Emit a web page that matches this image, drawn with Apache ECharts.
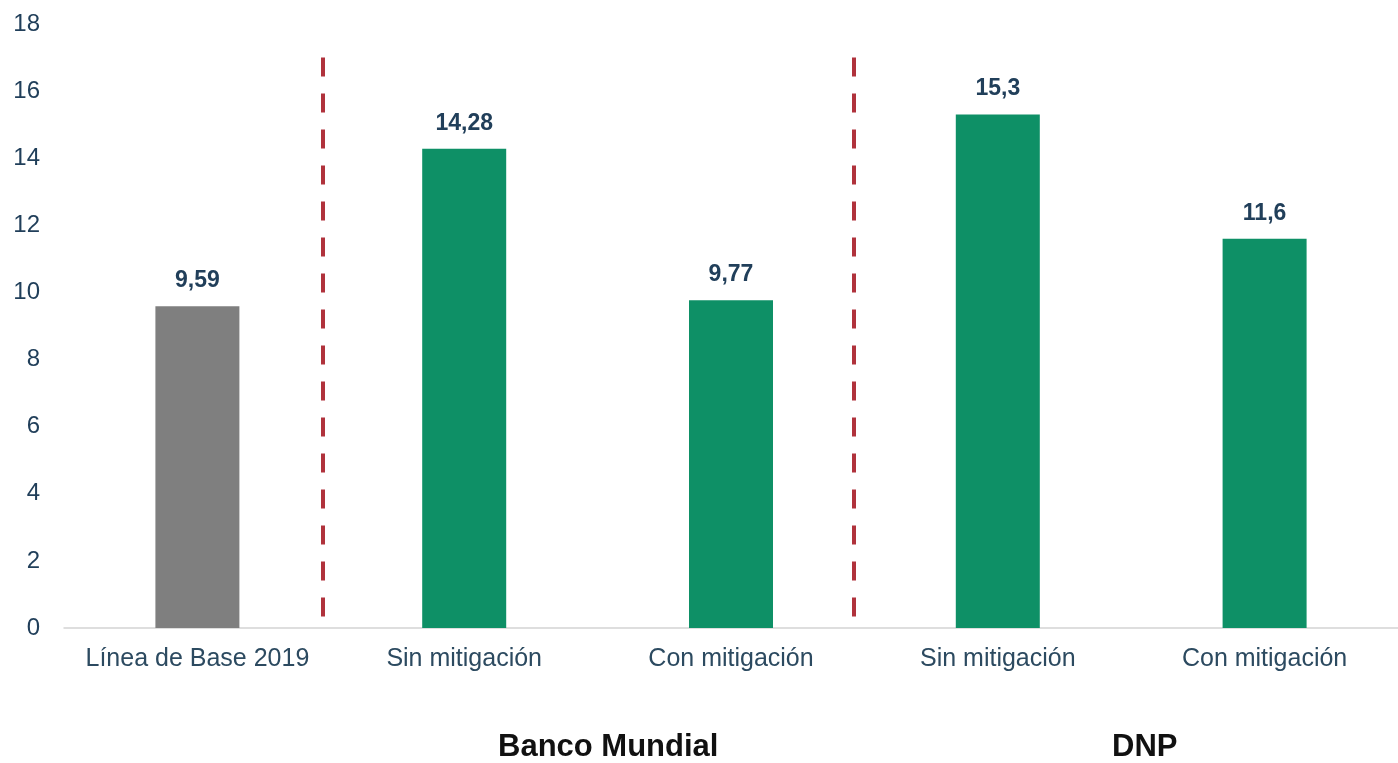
<!DOCTYPE html>
<html>
<head>
<meta charset="utf-8">
<script src="https://cdn.jsdelivr.net/npm/echarts@6/dist/echarts.min.js"></script>
<style>
html,body{margin:0;padding:0;background:#fff;}
#chart{width:1398px;height:763px;}
</style>
</head>
<body>
<div id="chart"></div>
<script>
const categories = ['Línea de Base 2019', 'Sin mitigación', 'Con mitigación', 'Sin mitigación', 'Con mitigación'];
const values = [9.59, 14.28, 9.77, 15.3, 11.6];
const barColors = ['#7f7f7f', '#0e9066', '#0e9066', '#0e9066', '#0e9066'];
const yTicks = [0, 2, 4, 6, 8, 10, 12, 14, 16, 18];
const dividerPositions = [0.97, 2.96];
const dividerRange = [17, 0.15];
const groupLabels = ['Banco Mundial', 'DNP'];

const chart = echarts.init(document.getElementById('chart'));
const font = 'Liberation Sans, Arial, sans-serif';
const textColor = '#213f5a';

chart.setOption({
  animation: false,
  backgroundColor: '#ffffff',
  grid: { left: 64, top: 24, bottom: 135, width: 1340, containLabel: false },
  xAxis: [{
    type: 'category',
    data: categories,
    axisLine: { show: true, lineStyle: { color: '#d4d4d4', width: 1.5 } },
    axisTick: { show: false },
    axisLabel: { color: '#2c4a60', fontFamily: font, fontSize: 25, margin: 19, interval: 0 }
  }, {
    type: 'value',
    min: 0, max: 5,
    show: false
  }],
  yAxis: {
    type: 'value',
    min: yTicks[0],
    max: yTicks[yTicks.length - 1],
    interval: 2,
    axisLine: { show: false },
    axisTick: { show: false },
    splitLine: { show: false },
    axisLabel: { color: textColor, fontFamily: font, fontSize: 24, margin: 24 }
  },
  series: [{
    type: 'bar',
    xAxisIndex: 0,
    barWidth: 84,
    data: values.map((v, i) => ({ value: v, itemStyle: { color: barColors[i] } })),
    label: {
      show: true,
      position: 'top',
      distance: 14,
      color: textColor,
      fontFamily: font,
      fontWeight: 'bold',
      fontSize: 23,
      formatter: p => String(p.value).replace('.', ',')
    }
  }, {
    type: 'scatter',
    xAxisIndex: 1,
    data: [],
    silent: true,
    markLine: {
      symbol: ['none', 'none'],
      silent: true,
      label: { show: false },
      lineStyle: { color: '#b0323c', width: 4, type: [19, 17] },
      data: dividerPositions.map(x => [{ coord: [x, dividerRange[0]] }, { coord: [x, dividerRange[1]] }])
    }
  }],
  graphic: [{
    type: 'text',
    left: 498, top: 732,
    style: { text: groupLabels[0], font: 'bold 31px ' + font, fill: '#111111' }
  }, {
    type: 'text',
    left: 1112, top: 732,
    style: { text: groupLabels[1], font: 'bold 31px ' + font, fill: '#111111' }
  }]
});
</script>
</body>
</html>
